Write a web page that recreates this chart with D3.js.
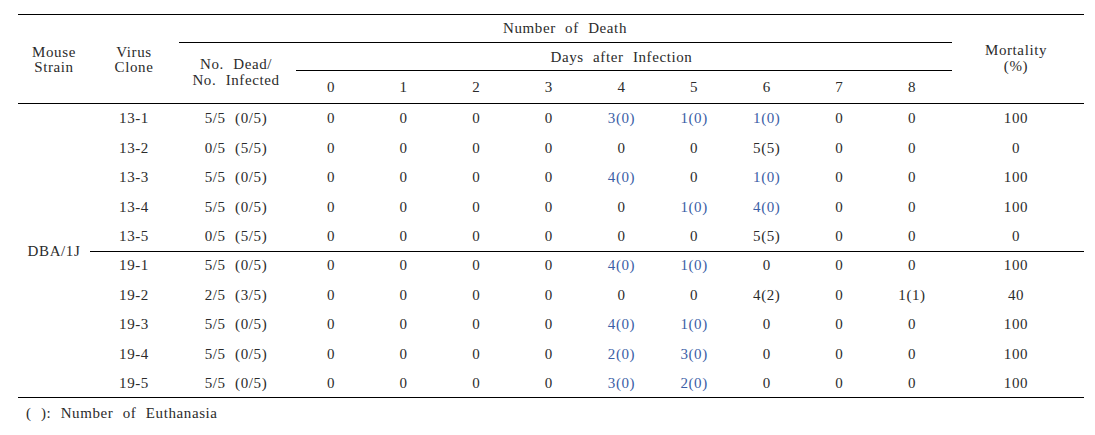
<!DOCTYPE html>
<html>
<head>
<meta charset="utf-8">
<script src="https://cdn.jsdelivr.net/npm/d3@7"></script>
<style>
  body { margin: 0; background: #fff; }
  svg text { font-family: "Liberation Serif", "DejaVu Serif", serif; font-size: 15px; fill: #2b2b2b;
             letter-spacing: 0.6px; word-spacing: 5px; white-space: pre; }
</style>
</head>
<body>
<div id="table"></div>
<script>
var w = 1095
var h = 435

// table data
var strain = "DBA/1J"
var clones = ["13-1", "13-2", "13-3", "13-4", "13-5", "19-1", "19-2", "19-3", "19-4", "19-5"]
var deadInfected = ["5/5 (0/5)", "0/5 (5/5)", "5/5 (0/5)", "5/5 (0/5)", "0/5 (5/5)",
                    "5/5 (0/5)", "2/5 (3/5)", "5/5 (0/5)", "5/5 (0/5)", "5/5 (0/5)"]
var days = [0, 1, 2, 3, 4, 5, 6, 7, 8]
var deaths = [
    ["0", "0", "0", "0", "3(0)", "1(0)", "1(0)", "0", "0"],
    ["0", "0", "0", "0", "0", "0", "5(5)", "0", "0"],
    ["0", "0", "0", "0", "4(0)", "0", "1(0)", "0", "0"],
    ["0", "0", "0", "0", "0", "1(0)", "4(0)", "0", "0"],
    ["0", "0", "0", "0", "0", "0", "5(5)", "0", "0"],
    ["0", "0", "0", "0", "4(0)", "1(0)", "0", "0", "0"],
    ["0", "0", "0", "0", "0", "0", "4(2)", "0", "1(1)"],
    ["0", "0", "0", "0", "4(0)", "1(0)", "0", "0", "0"],
    ["0", "0", "0", "0", "2(0)", "3(0)", "0", "0", "0"],
    ["0", "0", "0", "0", "3(0)", "2(0)", "0", "0", "0"]
]
var mortality = [100, 0, 100, 100, 0, 100, 40, 100, 100, 100]

var blue = "#3b5ea6"

var svg = d3.select("#table").append("svg").attr("width", w).attr("height", h)

var x = d3.scalePoint().domain(days).range([331, 912])
var y = d3.scalePoint().domain(clones).range([118, 383])

var left = 18, right = 1084
var colStrain = 54, colClone = 134, colDead = 236, colMort = 1016

function line(x1, x2, yy) {
    svg.append("line")
        .attr("x1", x1).attr("x2", x2)
        .attr("y1", yy).attr("y2", yy)
        .attr("stroke", "#000")
        .attr("stroke-width", 1)
        .attr("shape-rendering", "crispEdges")
}

function label(t, xx, yy, anchor) {
    return svg.append("text")
        .text(t)
        .attr("x", xx)
        .attr("y", yy)
        .attr("dy", "0.35em")
        .attr("text-anchor", anchor || "middle")
}

// rules
line(left, right, 14.5)
line(179, 952, 42.5)
line(296, 952, 70.5)
line(left, right, 103.5)
line(90, right, (y("13-5") + y("19-1")) / 2 + 0.5)
line(left, right, 397.5)

// header
label("Number of Death", 565, 28)
label("Days after Infection", (x(0) + x(8)) / 2, 57)
label("Mouse", colStrain, 52)
label("Strain", colStrain, 67)
label("Virus", colClone, 52)
label("Clone", colClone, 67)
label("No. Dead/", colDead, 64)
label("No. Infected", colDead, 80)
label("Mortality", colMort, 50)
label("(%)", colMort, 66)

svg.selectAll("text.day")
    .data(days)
    .enter()
    .append("text")
    .attr("class", "day")
    .attr("x", function(d) { return x(d) })
    .attr("y", 87)
    .attr("dy", "0.35em")
    .attr("text-anchor", "middle")
    .text(function(d) { return d })

// body
label(strain, colStrain, (y("13-5") + y("19-1")) / 2)

var rows = svg.selectAll("g.row")
    .data(clones)
    .enter()
    .append("g")
    .attr("class", "row")
    .attr("transform", function(d) { return "translate(0," + y(d) + ")" })

rows.append("text")
    .attr("x", colClone).attr("dy", "0.35em").attr("text-anchor", "middle")
    .text(function(d) { return d })

rows.append("text")
    .attr("x", colDead).attr("dy", "0.35em").attr("text-anchor", "middle")
    .text(function(d, i) { return deadInfected[i] })

rows.append("text")
    .attr("x", colMort).attr("dy", "0.35em").attr("text-anchor", "middle")
    .text(function(d, i) { return mortality[i] })

rows.each(function(d, i) {
    d3.select(this).selectAll("text.cell")
        .data(deaths[i])
        .enter()
        .append("text")
        .attr("class", "cell")
        .attr("x", function(v, j) { return x(days[j]) })
        .attr("dy", "0.35em")
        .attr("text-anchor", "middle")
        .style("fill", function(v) { return v.indexOf("(0)") > 0 ? blue : null })
        .text(function(v) { return v })
})

// footnote
label("( ): Number of Euthanasia", 26, 413, "start")
</script>
</body>
</html>
